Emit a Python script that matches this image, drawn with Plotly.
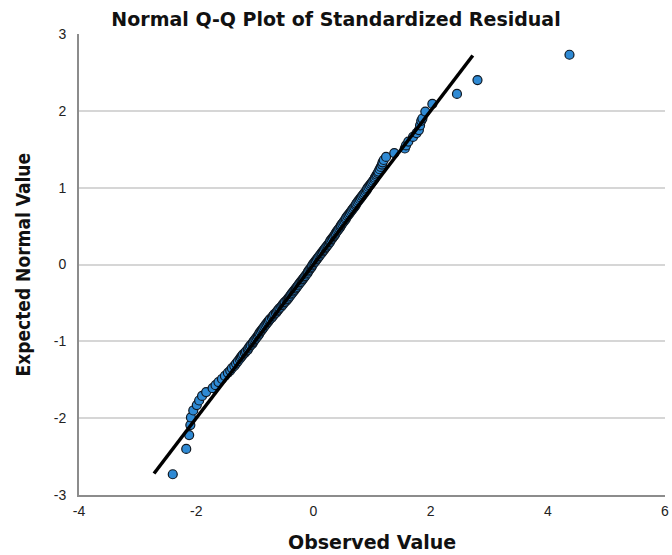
import plotly.graph_objects as go

# Expected normal values (y) and observed standardized residuals (x)
expected = [-2.73, -2.40, -2.22, -2.09, -1.99, -1.90, -1.83, -1.77, -1.71, -1.66,
            -1.61, -1.57, -1.53, -1.49, -1.45, -1.41, -1.38, -1.35, -1.32, -1.29,
            -1.26, -1.23, -1.21, -1.19, -1.17, -1.15, -1.13, -1.11, -1.09, -1.07,
            -1.05, -1.03, -1.01, -0.99, -0.97, -0.95, -0.93, -0.91, -0.89, -0.87,
            -0.85, -0.83, -0.81, -0.79, -0.77, -0.75, -0.73, -0.71, -0.69, -0.67,
            -0.65, -0.63, -0.61, -0.59, -0.57, -0.55, -0.53, -0.51, -0.49, -0.47,
            -0.45, -0.43, -0.41, -0.39, -0.37, -0.35, -0.33, -0.31, -0.29, -0.27,
            -0.25, -0.23, -0.21, -0.19, -0.17, -0.15, -0.13, -0.11, -0.09, -0.07,
            -0.05, -0.03, -0.01, 0.01, 0.03, 0.05, 0.07, 0.09, 0.11, 0.13,
            0.15, 0.17, 0.19, 0.21, 0.23, 0.25, 0.27, 0.29, 0.31, 0.33,
            0.35, 0.37, 0.39, 0.41, 0.43, 0.45, 0.47, 0.49, 0.51, 0.53,
            0.55, 0.57, 0.59, 0.61, 0.63, 0.65, 0.67, 0.69, 0.71, 0.73,
            0.75, 0.77, 0.79, 0.81, 0.83, 0.85, 0.87, 0.89, 0.91, 0.93,
            0.95, 0.97, 0.99, 1.01, 1.03, 1.05, 1.07, 1.09, 1.11, 1.13,
            1.15, 1.17, 1.19, 1.21, 1.24, 1.27, 1.30, 1.33, 1.36, 1.40,
            1.45, 1.51, 1.55, 1.60, 1.66, 1.71, 1.75, 1.81, 1.87, 1.90,
            1.99, 2.09, 2.22, 2.40, 2.73]
observed = [-2.40, -2.17, -2.12, -2.10, -2.09, -2.05, -1.99, -1.95, -1.90, -1.83,
            -1.72, -1.67, -1.62, -1.56, -1.51, -1.46, -1.42, -1.39, -1.35, -1.32,
            -1.29, -1.26, -1.24, -1.22, -1.20, -1.17, -1.15, -1.12, -1.11, -1.09,
            -1.07, -1.04, -1.03, -1.01, -0.99, -0.97, -0.95, -0.93, -0.92, -0.90,
            -0.88, -0.86, -0.84, -0.82, -0.80, -0.78, -0.76, -0.74, -0.71, -0.69,
            -0.67, -0.64, -0.62, -0.60, -0.58, -0.55, -0.53, -0.51, -0.49, -0.46,
            -0.44, -0.42, -0.40, -0.38, -0.36, -0.34, -0.32, -0.30, -0.28, -0.26,
            -0.24, -0.22, -0.20, -0.18, -0.16, -0.14, -0.12, -0.10, -0.09, -0.07,
            -0.05, -0.03, -0.02, 0.00, 0.02, 0.04, 0.06, 0.08, 0.10, 0.12,
            0.14, 0.16, 0.18, 0.20, 0.22, 0.24, 0.26, 0.28, 0.29, 0.31,
            0.33, 0.35, 0.37, 0.38, 0.40, 0.42, 0.44, 0.46, 0.47, 0.49,
            0.51, 0.53, 0.55, 0.56, 0.58, 0.60, 0.62, 0.64, 0.66, 0.68,
            0.70, 0.72, 0.73, 0.75, 0.77, 0.79, 0.81, 0.83, 0.85, 0.87,
            0.89, 0.91, 0.92, 0.94, 0.96, 0.98, 1.00, 1.02, 1.04, 1.05,
            1.07, 1.08, 1.10, 1.11, 1.13, 1.15, 1.17, 1.18, 1.20, 1.24,
            1.38, 1.56, 1.58, 1.62, 1.70, 1.76, 1.80, 1.82, 1.84, 1.86,
            1.91, 2.03, 2.45, 2.80, 4.37]

ref_line = [-2.72, 2.72]

x_ticks = [-4, -2, 0, 2, 4, 6]
x_tick_text = ["-4", "-2", "0", "2", "4", "6"]
y_ticks = [-3, -2, -1, 0, 1, 2, 3]
y_tick_text = ["-3", "-2", "-1", "0", "1", "2", "3"]

title_text = "Normal Q-Q Plot of Standardized Residual"
x_title = "Observed Value"
y_title = "Expected Normal Value"

W, H = 672, 555
ML, MR, MT, MB = 79, 7, 34, 60

fig = go.Figure()
fig.add_trace(go.Scatter(
    x=observed, y=expected, mode="markers",
    marker=dict(size=9, color="#2f8ad4", line=dict(color="#0f1822", width=1.2)),
    hoverinfo="x+y", showlegend=False))
fig.add_trace(go.Scatter(
    x=ref_line, y=ref_line, mode="lines",
    line=dict(color="#000000", width=3.5), showlegend=False, hoverinfo="skip"))

tick_font = dict(family="Liberation Sans, Arial, sans-serif", size=14, color="#222222")
bold_font = "DejaVu Sans, Liberation Sans, Arial, sans-serif"

fig.update_layout(
    width=W, height=H,
    margin=dict(l=ML, r=MR, t=MT, b=MB, autoexpand=False),
    paper_bgcolor="white", plot_bgcolor="white",
    title=dict(text="<b>%s</b>" % title_text, x=0.5, xref="container", xanchor="center",
               y=1 - 19.5 / H, yref="container", yanchor="middle",
               font=dict(family=bold_font, size=19, color="#111111")),
    xaxis=dict(range=[-4, 6], tickvals=x_ticks, ticktext=x_tick_text, showgrid=False,
               zeroline=False, showline=True, linecolor="#8c8c8c", linewidth=2, ticks="",
               tickfont=tick_font, ticklabelstandoff=2, fixedrange=True),
    yaxis=dict(range=[-3, 3], tickvals=y_ticks, ticktext=y_tick_text, showgrid=True,
               gridcolor="#d6d6d6", gridwidth=2, zeroline=False, showline=True,
               linecolor="#8c8c8c", linewidth=2, ticks="", tickfont=tick_font,
               ticklabelstandoff=8, fixedrange=True),
    annotations=[
        dict(text="<b>%s</b>" % x_title, xref="paper", yref="paper", x=0.5,
             y=(495 - 541.7) / 461.0, xanchor="center", yanchor="middle",
             showarrow=False, font=dict(family=bold_font, size=19, color="#111111")),
        dict(text="<b>%s</b>" % y_title, xref="paper", yref="paper",
             x=(22 - ML) / (W - ML - MR), y=0.5, xanchor="center", yanchor="middle",
             textangle=-90, showarrow=False,
             font=dict(family="Liberation Sans Narrow, DejaVu Sans Condensed, Arial Narrow, sans-serif",
                       size=19, color="#111111")),
    ],
)

fig.write_html("out.html")
